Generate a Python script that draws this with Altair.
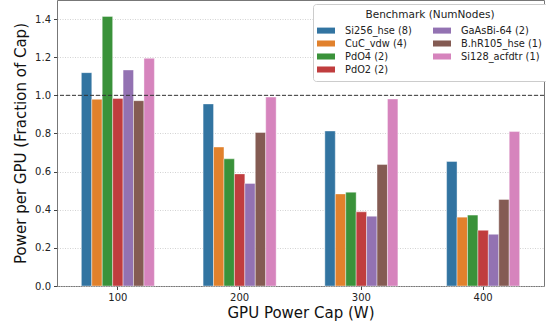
import altair as alt
import pandas as pd

caps = ["100", "200", "300", "400"]
benchmarks = ["Si256_hse (8)", "CuC_vdw (4)", "PdO4 (2)", "PdO2 (2)",
              "GaAsBi-64 (2)", "B.hR105_hse (1)", "Si128_acfdtr (1)"]
colors = ["#3274a1", "#e1812c", "#3a923a", "#c03d3e", "#9372b2", "#845b53", "#d684bd"]

# power per GPU as a fraction of the cap, one list per benchmark (caps 100..400 W)
si256_hse = [1.119, 0.955, 0.813, 0.653]
cuc_vdw = [0.979, 0.729, 0.483, 0.361]
pdo4 = [1.414, 0.667, 0.492, 0.372]
pdo2 = [0.984, 0.588, 0.389, 0.292]
gaasbi_64 = [1.133, 0.538, 0.366, 0.271]
bhr105_hse = [0.972, 0.805, 0.637, 0.454]
si128_acfdtr = [1.194, 0.991, 0.981, 0.810]

series = [si256_hse, cuc_vdw, pdo4, pdo2, gaasbi_64, bhr105_hse, si128_acfdtr]
rows = []
for name, vals in zip(benchmarks, series):
    for cap, v in zip(caps, vals):
        rows.append({"cap": cap, "bench": name, "value": v})
df = pd.DataFrame(rows)

color_scale = alt.Scale(domain=benchmarks, range=colors)

FONT = "DejaVu Sans"

bars = alt.Chart(df).mark_bar(stroke="white", strokeWidth=0.5, strokeOpacity=0.8).encode(
    x=alt.X("cap:N", sort=caps,
            scale=alt.Scale(paddingInner=0.4, paddingOuter=0.2),
            axis=alt.Axis(title="GPU Power Cap (W)", labelAngle=0, grid=False,
                          ticks=True, tickSize=3.5, tickColor="#444",
                          labelFontSize=10, labelPadding=3, titleFontSize=15,
                          titleFontWeight="normal", titlePadding=3,
                          domain=False, labelColor="#222", titleColor="#111")),
    xOffset=alt.XOffset("bench:N", sort=benchmarks),
    y=alt.Y("value:Q", scale=alt.Scale(domain=[0, 1.5], nice=False),
            axis=alt.Axis(title="Power per GPU (Fraction of Cap)",
                          values=[0, 0.2, 0.4, 0.6, 0.8, 1.0, 1.2, 1.4], format=".1f",
                          grid=True, gridDash=[1, 1.5], gridColor="#c8c8c8",
                          gridWidth=0.8, ticks=True, tickSize=3.5, tickColor="#444",
                          labelFontSize=10, labelPadding=3, titleFontSize=15,
                          titleFontWeight="normal", titlePadding=6,
                          domain=False, labelColor="#222", titleColor="#111")),
    color=alt.Color("bench:N", scale=color_scale,
                    legend=alt.Legend(
                        title="Benchmark (NumNodes)", orient="none",
                        legendX=256, legendY=4, columns=2, columnPadding=20,
                        rowPadding=1, padding=6,
                        symbolType="M-1.29,-0.43H1.29V0.43H-1.29Z",
                        symbolSize=196, symbolStrokeWidth=0, symbolOpacity=1,
                        labelFontSize=9.8, titleFontSize=10.5, titleFontWeight="normal",
                        titleAnchor="middle", titlePadding=3, labelOffset=12,
                        fillColor="white", strokeColor="#cccccc", cornerRadius=3,
                        labelColor="#222", titleColor="#222")),
)

ref_line = alt.Chart(pd.DataFrame({"y": [1.0]})).mark_rule(
    color="#333", strokeDash=[4, 2], strokeWidth=1
).encode(y="y:Q")

chart = alt.layer(bars, ref_line).properties(
    width=487, height=286,
    padding={"left": 57, "top": 0, "right": 2, "bottom": 41},
    autosize=alt.AutoSizeParams(type="none"),
).configure(font=FONT).configure_view(stroke="#777", strokeWidth=1)

chart.save("out.html", embed_options={"renderer": "svg", "actions": False})
